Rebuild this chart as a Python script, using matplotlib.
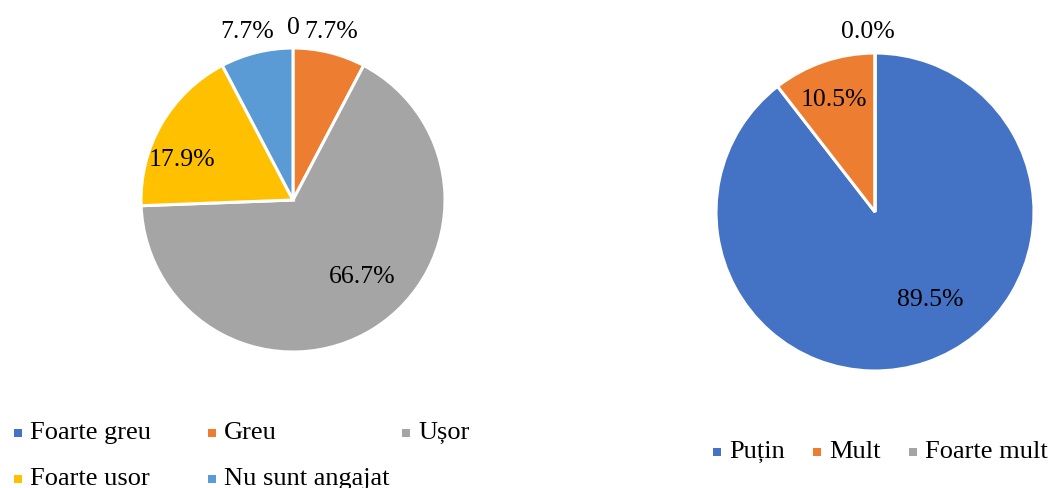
import matplotlib
matplotlib.use("Agg")
import matplotlib.pyplot as plt
from matplotlib.patches import Rectangle

plt.rcParams['font.family'] = ['Liberation Serif', 'DejaVu Serif']

# Left chart data
left_categories = ["Foarte greu", "Greu", "Ușor", "Foarte usor", "Nu sunt angajat"]
left_values = [0.0, 7.7, 66.7, 17.9, 7.7]
left_labels = ["0", "7.7%", "66.7%", "17.9%", "7.7%"]
left_colors = ["#4472C4", "#ED7D31", "#A5A5A5", "#FFC000", "#5B9BD5"]

# Right chart data
right_categories = ["Puțin", "Mult", "Foarte mult"]
right_values = [89.5, 10.5, 0.0]
right_labels = ["89.5%", "10.5%", "0.0%"]
right_colors = ["#4472C4", "#ED7D31", "#A5A5A5"]

# label positions (in pie radius units)
left_label_pos = [(0.0, 1.13), (0.25, 1.105), (0.454, -0.507), (-0.73, 0.263), (-0.303, 1.105)]
right_label_pos = [(0.346, -0.553), (-0.258, 0.704), (-0.044, 1.132)]

FS = 18.5
LFS = 19
fig = plt.figure(figsize=(10.5, 4.88), dpi=100)

def draw_pie(rect, values, colors, labels, pos):
    ax = fig.add_axes(rect)
    ax.pie(values, colors=colors, startangle=90, counterclock=False, radius=1,
           wedgeprops=dict(edgecolor="white", linewidth=2.2))
    ax.set_xlim(-1, 1)
    ax.set_ylim(-1, 1)
    ax.set_aspect("equal")
    ax.axis("off")
    for lab, (x, y) in zip(labels, pos):
        ax.text(x, y, lab, ha="center", va="center", fontsize=FS, color="black", clip_on=False)
    return ax

W, H = 1050.0, 488.0
draw_pie([(293 - 152) / W, (H - 352) / H, 304 / W, 304 / H], left_values, left_colors, left_labels, left_label_pos)
draw_pie([(875 - 159) / W, (H - 371) / H, 318 / W, 318 / H], right_values, right_colors, right_labels, right_label_pos)

def legend_item(xm, yc, color, text):
    s = 8
    fig.add_artist(Rectangle(((xm) / W, (H - yc - s / 2) / H), s / W, s / H,
                             transform=fig.transFigure, facecolor=color, edgecolor="none"))
    fig.text((xm + 16) / W, (H - yc) / H, text, ha="left", va="center", fontsize=LFS, color="black")

left_leg_xy = [(14, 433), (208, 433), (402, 433), (14, 479), (208, 479)]
for (x, y), c, t in zip(left_leg_xy, left_colors, left_categories):
    legend_item(x, y, c, t)

right_leg_xy = [(713, 452), (813, 452), (909, 452)]
for (x, y), c, t in zip(right_leg_xy, right_colors, right_categories):
    legend_item(x, y, c, t)

fig.savefig("out.png", dpi=100, facecolor="white")
